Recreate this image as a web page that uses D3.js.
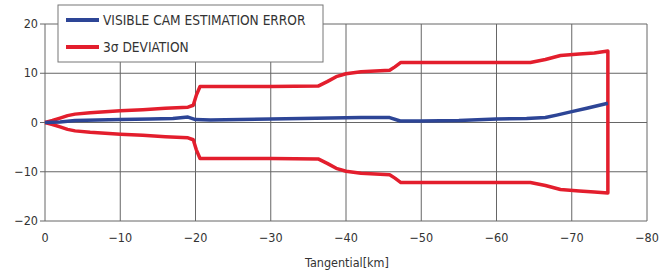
<!DOCTYPE html>
<html>
<head>
<meta charset="utf-8">
<script src="https://cdn.jsdelivr.net/npm/d3@7"></script>
<style>
body { margin: 0; background: #fff; }
text { font-family: "DejaVu Sans Condensed", "DejaVu Sans", sans-serif; fill: #333; }
</style>
</head>
<body>
<div id="chart"></div>
<script>
// x ticks and y ticks
var xTicks = [0, -10, -20, -30, -40, -50, -60, -70, -80];
var yTicks = [20, 10, 0, -10, -20];

// 3 sigma deviation (upper half)
var sigmaKm  = [0, -1, -2, -3, -4, -6, -8, -10, -13, -16, -19, -19.7, -20.1, -20.6, -25, -30, -36.3, -37.5, -38.7, -40, -42, -45.8, -46.5, -47.3, -55, -64.5, -66.5, -68.5, -71, -73, -74.8];
var sigmaVal = [0, 0.4, 0.9, 1.4, 1.7, 2.0, 2.2, 2.4, 2.6, 2.9, 3.1, 3.5, 5.5, 7.3, 7.3, 7.3, 7.4, 8.3, 9.3, 9.9, 10.3, 10.6, 11.3, 12.2, 12.2, 12.2, 12.8, 13.6, 13.9, 14.1, 14.5];
// lower half (negative side)
var sigmaLow = [0, -0.4, -0.9, -1.4, -1.7, -2.0, -2.2, -2.4, -2.6, -2.9, -3.1, -3.5, -5.5, -7.3, -7.3, -7.3, -7.4, -8.3, -9.3, -9.9, -10.3, -10.6, -11.3, -12.2, -12.2, -12.2, -12.8, -13.6, -13.9, -14.1, -14.3];

// visible cam estimation error
var errKm  = [0, -2, -4, -7, -10, -14, -17, -19, -20, -22, -26, -30, -34, -38, -42, -45.8, -47.2, -50, -55, -60, -64, -66.5, -68, -70, -72, -74.8];
var errVal = [0, 0.1, 0.4, 0.5, 0.6, 0.7, 0.8, 1.1, 0.6, 0.5, 0.6, 0.7, 0.8, 0.9, 1.0, 1.0, 0.3, 0.3, 0.4, 0.7, 0.8, 1.0, 1.5, 2.2, 2.9, 3.9];

var w = 659, h = 272;
var margin = {left: 45, right: 12, top: 24, bottom: 51};

var svg = d3.select("#chart").append("svg")
    .attr("width", w)
    .attr("height", h);

var x = d3.scaleLinear().domain([0, -80]).range([margin.left, w - margin.right]);
var y = d3.scaleLinear().domain([-20, 20]).range([h - margin.bottom, margin.top]);

// grid
svg.selectAll("line.vgrid")
    .data(xTicks)
    .enter()
    .append("line")
    .attr("class", "vgrid")
    .attr("x1", function(d) { return x(d); })
    .attr("x2", function(d) { return x(d); })
    .attr("y1", y(20))
    .attr("y2", y(-20))
    .attr("stroke", "#666")
    .attr("stroke-width", 1);

svg.selectAll("line.hgrid")
    .data(yTicks)
    .enter()
    .append("line")
    .attr("class", "hgrid")
    .attr("x1", x(0) - 5)
    .attr("x2", x(-80))
    .attr("y1", function(d) { return y(d); })
    .attr("y2", function(d) { return y(d); })
    .attr("stroke", "#666")
    .attr("stroke-width", 1);

// axes labels
svg.selectAll("text.xt")
    .data(xTicks)
    .enter()
    .append("text")
    .attr("class", "xt")
    .attr("x", function(d) { return x(d); })
    .attr("y", y(-20) + 21)
    .attr("text-anchor", "middle")
    .attr("font-size", "12.5px")
    .text(function(d) { return d === 0 ? "0" : "\u2212" + Math.abs(d); });

svg.selectAll("text.yt")
    .data(yTicks)
    .enter()
    .append("text")
    .attr("class", "yt")
    .attr("x", x(0) - 7)
    .attr("y", function(d) { return y(d) + 4; })
    .attr("text-anchor", "end")
    .attr("font-size", "12.5px")
    .text(function(d) { return d < 0 ? "\u2212" + Math.abs(d) : d; });

svg.append("text")
    .attr("x", (x(0) + x(-80)) / 2 + 1)
    .attr("y", h - 5)
    .attr("text-anchor", "middle")
    .attr("font-size", "12.5px")
    .text("Tangential[km]");

var line = d3.line()
    .x(function(d) { return x(d[0]); })
    .y(function(d) { return y(d[1]); });

// 3 sigma envelope: upper, drop at the end, lower back
var upper = sigmaKm.map(function(k, i) { return [k, sigmaVal[i]]; });
var lower = sigmaKm.map(function(k, i) { return [k, sigmaLow[i]]; });

svg.append("path")
    .attr("d", line(upper.concat(lower.slice().reverse())))
    .attr("fill", "none")
    .attr("stroke", "#e31e2d")
    .attr("stroke-width", 3.5)
    .attr("stroke-linejoin", "round");

svg.append("path")
    .attr("d", line(errKm.map(function(k, i) { return [k, errVal[i]]; })))
    .attr("fill", "none")
    .attr("stroke", "#2d4596")
    .attr("stroke-width", 3.5)
    .attr("stroke-linejoin", "round");

// legend
var legend = svg.append("g");
legend.append("rect")
    .attr("x", 58)
    .attr("y", 5)
    .attr("width", 265)
    .attr("height", 57)
    .attr("fill", "#fff")
    .attr("stroke", "#777")
    .attr("stroke-width", 1);

var legendItems = [
    {label: "VISIBLE CAM ESTIMATION ERROR", color: "#2d4596"},
    {label: "3\u03c3 DEVIATION", color: "#e31e2d"}
];

legend.selectAll("line.leg")
    .data(legendItems)
    .enter()
    .append("line")
    .attr("class", "leg")
    .attr("x1", 66)
    .attr("x2", 99)
    .attr("y1", function(d, i) { return 20 + i * 27; })
    .attr("y2", function(d, i) { return 20 + i * 27; })
    .attr("stroke", function(d) { return d.color; })
    .attr("stroke-width", 4);

legend.selectAll("text.leg")
    .data(legendItems)
    .enter()
    .append("text")
    .attr("class", "leg")
    .attr("x", 103)
    .attr("y", function(d, i) { return 25 + i * 27; })
    .attr("font-size", "13.6px")
    .text(function(d) { return d.label; });
</script>
</body>
</html>
